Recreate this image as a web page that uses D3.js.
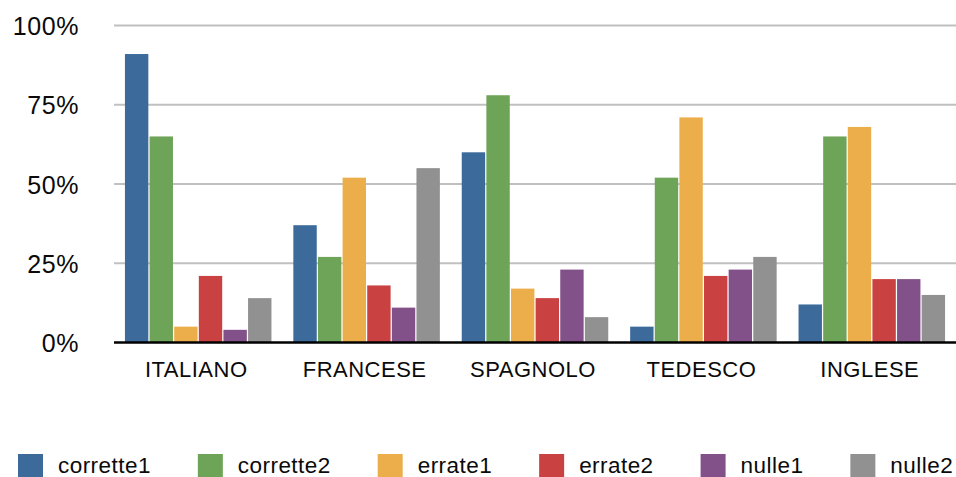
<!DOCTYPE html>
<html>
<head>
<meta charset="utf-8">
<script src="https://cdn.jsdelivr.net/npm/d3@7"></script>
<style>
  html, body { margin: 0; padding: 0; background: #fff; }
  svg { display: block; font-family: "Liberation Sans", Arial, Helvetica, sans-serif; }
</style>
</head>
<body>
<svg id="chart" width="956" height="477"></svg>
<script>
// Languages on the x axis
const categories = ["ITALIANO", "FRANCESE", "SPAGNOLO", "TEDESCO", "INGLESE"];
// Series names, in drawing order
const seriesNames = ["corrette1", "corrette2", "errate1", "errate2", "nulle1", "nulle2"];
const seriesColors = ["#3b6a9b", "#6ea458", "#ecae4b", "#c94140", "#835189", "#919191"];

// Percent values per series, one per language
const corrette1 = [91, 37, 60, 5, 12];
const corrette2 = [65, 27, 78, 52, 65];
const errate1   = [5, 52, 17, 71, 68];
const errate2   = [21, 18, 14, 21, 20];
const nulle1    = [4, 11, 23, 23, 20];
const nulle2    = [14, 55, 8, 27, 15];
const seriesValues = [corrette1, corrette2, errate1, errate2, nulle1, nulle2];

const yTicks = [0, 25, 50, 75, 100];

const svg = d3.select("#chart");
const plotLeft = 114, plotRight = 956, plotTop = 25.5, plotBottom = 342.5;

const x0 = d3.scaleBand()
  .domain(categories)
  .range([plotLeft, plotRight])
  .paddingInner(0.13)
  .paddingOuter(0.065);

const x1 = d3.scaleBand()
  .domain(seriesNames)
  .range([0, x0.bandwidth()])
  .paddingInner(0.05);

const y = d3.scaleLinear().domain([0, 100]).range([plotBottom, plotTop]);

// Horizontal gridlines
svg.append("g")
  .selectAll("line")
  .data(yTicks.filter(t => t > 0))
  .join("line")
  .attr("x1", plotLeft).attr("x2", plotRight)
  .attr("y1", d => y(d)).attr("y2", d => y(d))
  .attr("stroke", "#c0c0c0")
  .attr("stroke-width", 2);

// Y tick labels
svg.append("g")
  .selectAll("text")
  .data(yTicks)
  .join("text")
  .attr("x", 79)
  .attr("y", d => y(d) + 9.5)
  .attr("text-anchor", "end")
  .attr("font-size", 25)
  .attr("letter-spacing", 0.6)
  .attr("fill", "#0a0a0a")
  .text(d => d + "%");

// Bars
const rows = categories.map((c, i) => ({
  cat: c,
  vals: seriesNames.map((s, j) => ({ s, j, v: seriesValues[j][i] }))
}));

svg.append("g")
  .selectAll("g")
  .data(rows)
  .join("g")
  .attr("transform", d => `translate(${x0(d.cat)},0)`)
  .selectAll("rect")
  .data(d => d.vals)
  .join("rect")
  .attr("x", d => x1(d.s))
  .attr("width", x1.bandwidth())
  .attr("y", d => y(d.v))
  .attr("height", d => y(0) - y(d.v))
  .attr("fill", d => seriesColors[d.j]);

// Baseline axis
const xAxis = svg.append("g")
  .attr("transform", `translate(0,${plotBottom})`)
  .call(d3.axisBottom(x0).tickSize(0).tickPadding(0));
xAxis.select(".domain")
  .attr("d", `M${plotLeft},0H${plotRight}`)
  .attr("stroke", "#000")
  .attr("stroke-width", 2.5);
xAxis.selectAll("text")
  .attr("x", -2)
  .attr("y", 34)
  .attr("dy", null)
  .attr("font-size", 22)
  .attr("letter-spacing", 0.5)
  .attr("font-family", "'Liberation Sans', Arial, Helvetica, sans-serif")
  .attr("fill", "#0a0a0a");

// Legend
const legend = svg.append("g").attr("transform", "translate(18,0)");
let lx = 0;
seriesNames.forEach((name, i) => {
  const g = legend.append("g").attr("transform", `translate(${lx},0)`);
  g.append("rect")
    .attr("x", 0).attr("y", 454)
    .attr("width", 25).attr("height", 23)
    .attr("fill", seriesColors[i]);
  const t = g.append("text")
    .attr("x", 40).attr("y", 473)
    .attr("font-size", 22.5)
    .attr("letter-spacing", 0.45)
    .attr("fill", "#0a0a0a")
    .text(name);
  lx += 40 + t.node().getComputedTextLength() + 47;
});
</script>
</body>
</html>
